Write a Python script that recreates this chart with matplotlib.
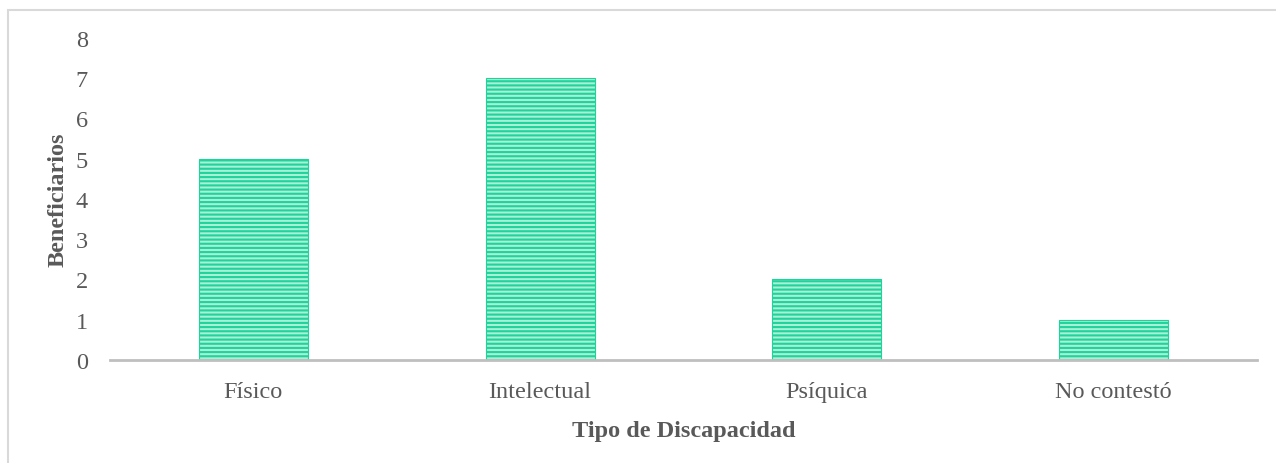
import matplotlib.pyplot as plt
from matplotlib.patches import Rectangle

categorias = ['Físico', 'Intelectual', 'Psíquica', 'No contestó']
beneficiarios = [5, 7, 2, 1]

plt.rcParams['font.family'] = ['Liberation Serif', 'DejaVu Serif']
plt.rcParams['hatch.linewidth'] = 1.5

fig = plt.figure(figsize=(12.76, 4.64), dpi=100)
ax = fig.add_axes([0.0862, 0.222, 0.8989, 0.694])

# borde del gráfico (solo se ve arriba y a la izquierda)
fig.patches.append(Rectangle((0.0065, -0.05), 1.1, 1.027, transform=fig.transFigure,
                             fill=False, edgecolor='#d9d9d9', linewidth=1.5))

ax.bar(categorias, beneficiarios, width=0.38, color='#a8f0d6',
       edgecolor='#1fd39b', hatch='----', linewidth=0.8)

ax.set_ylim(0, 8)
ax.set_xlim(-0.5, 3.5)
ax.set_yticks(range(0, 9))
for s in ['top', 'right', 'left']:
    ax.spines[s].set_visible(False)
ax.spines['bottom'].set_color('#bfbfbf')
ax.spines['bottom'].set_linewidth(2)
ax.tick_params(axis='both', length=0, labelsize=17.5, labelcolor='#595959')
ax.tick_params(axis='y', pad=16)
ax.tick_params(axis='x', pad=15)

ax.set_xlabel('Tipo de Discapacidad', fontsize=17.5, fontweight='bold', color='#595959', labelpad=13)
ax.set_ylabel('Beneficiarios', fontsize=17.5, fontweight='bold', color='#595959', labelpad=5)

fig.savefig('out.png', dpi=100)
